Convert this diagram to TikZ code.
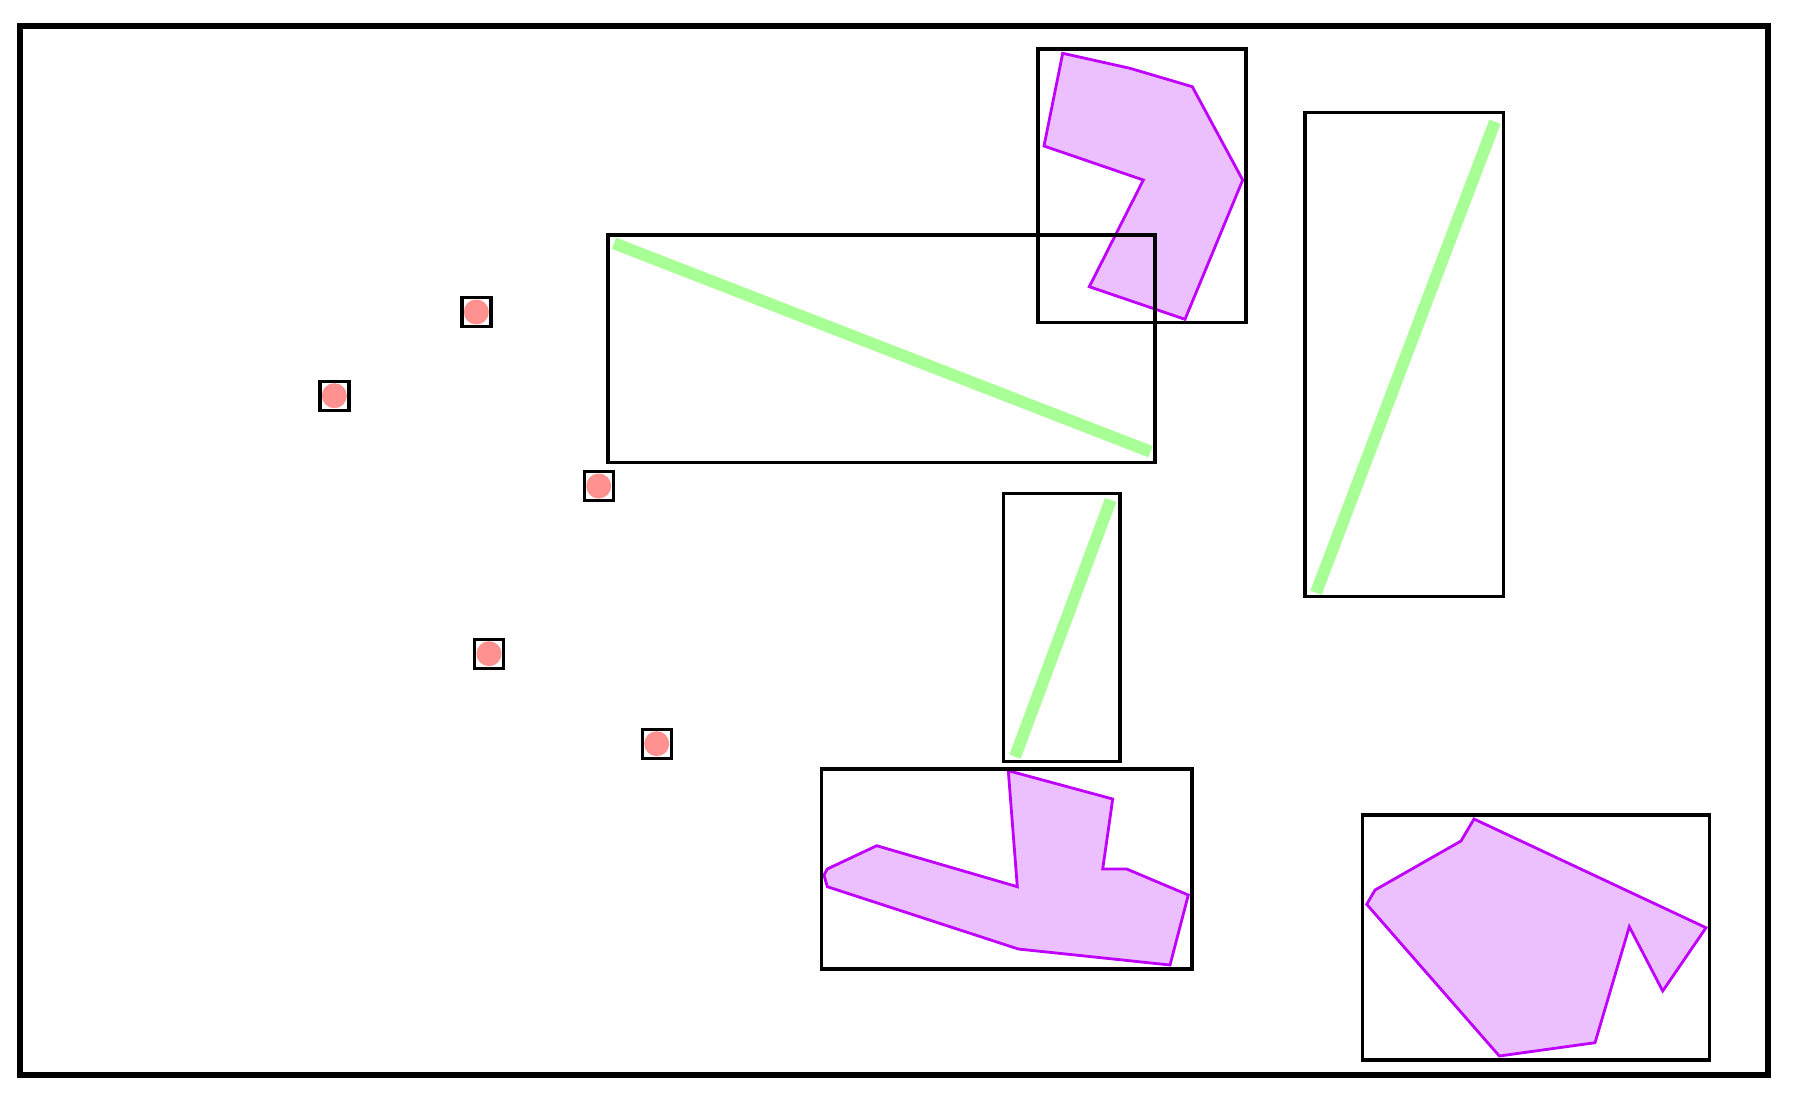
\documentclass[tikz,border=0pt]{standalone}
\definecolor{pstroke}{RGB}{191,0,255}
\definecolor{pfill}{RGB}{236,192,255}
\definecolor{gline}{RGB}{168,255,150}
\definecolor{rdot}{RGB}{255,145,145}
\tikzset{
  frame/.style={draw=black,line width=6pt},
  bbox/.style={draw=black,line width=3.1pt},
  poly/.style={draw=pstroke,fill=pfill,line width=2.8pt},
  seg/.style={draw=gline,line width=12pt},
  sqbox/.style={draw=black,line width=3.4pt,minimum size=29pt,inner sep=0pt,outer sep=0pt},
  dotfill/.style={fill=rdot}
}
\begin{document}
\begin{tikzpicture}[x=1pt,y=-1pt]
\useasboundingbox (0,0) rectangle (1794,1100);
\fill[white] (0,0) rectangle (1794,1100);
% outer frame
\draw[frame] (20.3,26.3) rectangle (1768,1075);
% purple polygons
\draw[poly] (1062.7,53.3) -- (1130,68.3) -- (1192.3,86.7) -- (1242.7,180) -- (1185,319.3) -- (1089.3,286.7) -- (1143.3,180) -- (1044,146) -- cycle;
\draw[poly] (1008.3,770.7) -- (1112.7,799) -- (1102.7,869) -- (1126.7,869) -- (1188.3,895) -- (1170,965) -- (1018.3,949) -- (827.3,886.7) -- (824,875) -- (827.3,869) -- (876.7,845.7) -- (1017.3,886.7) -- cycle;
\draw[poly] (1474,819) -- (1706,927.7) -- (1662.7,991) -- (1629.3,926.7) -- (1595,1042.7) -- (1499.3,1056) -- (1366.7,904.3) -- (1375,890) -- (1461,841) -- cycle;
% green segments
\coordinate (g1a) at (614,243.3); \coordinate (g1b) at (1150.5,451.7);
\coordinate (g2a) at (1495,121.7); \coordinate (g2b) at (1316,592.7);
\coordinate (g3a) at (1110.7,500); \coordinate (g3b) at (1015,756.7);
\draw[seg] (g1a) -- (g1b);
\draw[seg] (g2a) -- (g2b);
\draw[seg] (g3a) -- (g3b);
% bounding boxes
\draw[bbox] (1038,49) rectangle (1246,322.7);
\draw[bbox] (608,235) rectangle (1155,462.3);
\draw[bbox] (1305,112.7) rectangle (1503.3,596.7);
\draw[bbox] (1003.3,493.3) rectangle (1120,761.7);
\draw[bbox] (821.7,769) rectangle (1192,969);
\draw[bbox] (1362.3,815) rectangle (1709.3,1060);
% dots
\foreach \n/\px/\py in {d1/476.3/312, d2/334.3/395.7, d3/598.7/486, d4/489/653.7, d5/656.7/743.7}{
  \fill[dotfill] (\px,\py) circle (12.5pt);
  \node[sqbox] (\n) at (\px,\py) {};
}
\end{tikzpicture}
\end{document}
